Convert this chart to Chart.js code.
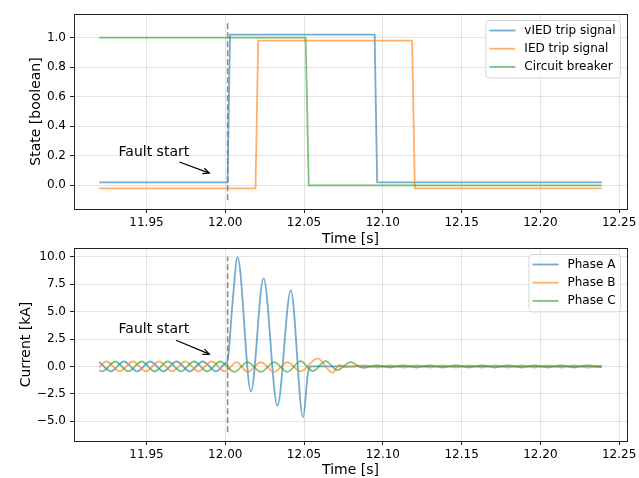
<!DOCTYPE html>
<html><head><meta charset="utf-8">
<script src="https://cdn.jsdelivr.net/npm/chart.js@4.4.1/dist/chart.umd.min.js"></script>
<style>
html,body{margin:0;padding:0;background:#fff;}
#wrap{position:relative;width:639px;height:478px;overflow:hidden;background:#fff;}
#c1{position:absolute;left:0;top:0;}
#c2{position:absolute;left:0;top:228px;}
</style></head><body>
<div id="wrap"><canvas id="c1" width="639" height="250"></canvas><canvas id="c2" width="639" height="251"></canvas></div>
<script>
// ---- tick labels / axes ----
const xTicks = [11.95, 12.00, 12.05, 12.10, 12.15, 12.20, 12.25];
const stateTicks = [0.0, 0.2, 0.4, 0.6, 0.8, 1.0];
const currentTicks = [-5.0, -2.5, 0.0, 2.5, 5.0, 7.5, 10.0];
const stateLabels = ['vIED trip signal', 'IED trip signal', 'Circuit breaker'];
const currentLabels = ['Phase A', 'Phase B', 'Phase C'];

// ---- top: trip signals ----
const viedT = [11.920, 12.0015, 12.0030, 12.0948, 12.0964, 12.239];
const viedV = [0.02, 0.02, 1.02, 1.02, 0.02, 0.02];
const iedT = [11.920, 12.0192, 12.0209, 12.1186, 12.1203, 12.239];
const iedV = [-0.02, -0.02, 0.98, 0.98, -0.02, -0.02];
const cbT = [11.920, 12.0510, 12.0530, 12.239];
const cbV = [1.0, 1.0, 0.0, 0.0];

// ---- bottom: phase currents [kA] ----
const tA = [11.9200, 11.9274, 11.9357, 11.9441, 11.9524, 11.9607, 11.9691, 11.9774, 11.9857, 11.9941, 12.0000, 12.0015, 12.0045, 12.0078, 12.0163, 12.0243, 12.0331, 12.0416, 12.0494, 12.0525, 12.0548, 12.2390];
const iA = [0.42, -0.45, 0.45, -0.45, 0.45, -0.45, 0.45, -0.45, 0.45, -0.45, 0.28, 0.55, 5.6, 9.97, -2.27, 8.03, -3.58, 6.94, -4.64, -0.6, 0.0, 0.0];
const tB = [11.9200, 11.9246, 11.9330, 11.9413, 11.9496, 11.9580, 11.9663, 11.9746, 11.9830, 11.9913, 11.9996, 12.0072, 12.0142, 12.0226, 12.0310, 12.0394, 12.0479, 12.0585, 12.0680, 12.0725, 12.0765, 12.0880, 12.0963, 12.1046, 12.1129, 12.1213, 12.1296, 12.1380, 12.1463, 12.1546, 12.1629, 12.1713, 12.1796, 12.1880, 12.1963, 12.2046, 12.2129, 12.2213, 12.2296, 12.2390];
const iB = [-0.08, 0.45, -0.45, 0.45, -0.45, 0.45, -0.45, 0.45, -0.45, 0.45, -0.45, 0.38, -0.50, 0.38, -0.50, 0.38, -0.45, 0.73, -0.58, 0.15, -0.08, 0.10, -0.10, 0.10, -0.10, 0.10, -0.10, 0.10, -0.10, 0.10, -0.10, 0.10, -0.10, 0.10, -0.10, 0.10, -0.10, 0.10, -0.10, 0.08];
const tC = [11.9200, 11.9219, 11.9302, 11.9385, 11.9469, 11.9552, 11.9635, 11.9719, 11.9802, 11.9885, 11.9969, 12.0057, 12.0142, 12.0226, 12.0310, 12.0394, 12.0479, 12.0555, 12.0637, 12.0711, 12.0796, 12.0870, 12.0963, 12.1046, 12.1129, 12.1213, 12.1296, 12.1380, 12.1463, 12.1546, 12.1629, 12.1713, 12.1796, 12.1880, 12.1963, 12.2046, 12.2129, 12.2213, 12.2296, 12.2390];
const iC = [-0.35, -0.45, 0.45, -0.45, 0.45, -0.45, 0.45, -0.45, 0.45, -0.45, 0.45, -0.50, 0.40, -0.50, 0.40, -0.50, 0.48, -0.42, 0.48, -0.33, 0.40, -0.12, 0.10, -0.10, 0.10, -0.10, 0.10, -0.10, 0.10, -0.10, 0.10, -0.10, 0.10, -0.10, 0.10, -0.10, 0.10, -0.10, 0.10, -0.08];

// ---- fault marker and annotation (data coordinates) ----
const faultTime = 12.0015;
const faultSpanState = [-0.1, 1.1];
const faultSpanCurrent = [-6.0, 10.0];
const noteText = 'Fault start';
const noteState = [11.9547, 0.224, 11.9709, 0.158, 11.9899, 0.083];
const noteCurrent = [11.9547, 3.39, 11.9688, 2.39, 11.9899, 1.12];

const xMin = 11.904, xMax = 12.255;
const stateRange = [-0.16, 1.16];
const currentRange = [-6.8, 10.8];

const BLUE = 'rgba(31,119,180,0.62)', ORANGE = 'rgba(255,127,14,0.62)', GREEN = 'rgba(44,160,44,0.62)';
const colors = [BLUE, ORANGE, GREEN];
const FONT = '"DejaVu Sans", "Liberation Sans", sans-serif';
Chart.defaults.font.family = FONT;
Chart.defaults.font.size = 12;
Chart.defaults.color = '#000';

const pts = (T, V) => T.map((t, i) => ({x: t, y: V[i]}));

const extras = {
  id: 'extras',
  afterDatasetsDraw(chart, args, opts) {
    const {ctx, chartArea: a, scales} = chart;
    const xs = scales.x, ys = scales.y;
    ctx.save();
    // annotation
    const n = opts.note;
    ctx.fillStyle = '#000';
    ctx.font = '14px ' + FONT;
    ctx.textAlign = 'center'; ctx.textBaseline = 'middle';
    ctx.fillText(noteText, xs.getPixelForValue(n[0]), ys.getPixelForValue(n[1]));
    const x1 = xs.getPixelForValue(n[2]), y1 = ys.getPixelForValue(n[3]);
    const x2 = xs.getPixelForValue(n[4]), y2 = ys.getPixelForValue(n[5]);
    ctx.strokeStyle = '#000'; ctx.lineWidth = 1.2; ctx.lineCap = 'butt';
    ctx.beginPath(); ctx.moveTo(x1, y1); ctx.lineTo(x2, y2); ctx.stroke();
    const ang = Math.atan2(y2 - y1, x2 - x1), hl = 7, hw = 0.42;
    ctx.beginPath();
    ctx.moveTo(x2 - hl * Math.cos(ang - hw), y2 - hl * Math.sin(ang - hw));
    ctx.lineTo(x2, y2);
    ctx.lineTo(x2 - hl * Math.cos(ang + hw), y2 - hl * Math.sin(ang + hw));
    ctx.stroke();
    // frame
    ctx.strokeStyle = '#222'; ctx.lineWidth = 1;
    ctx.strokeRect(Math.round(a.left) + 0.5, Math.round(a.top) + 0.5, Math.round(a.right - a.left), Math.round(a.bottom - a.top));
    // legend
    const items = chart.data.datasets.filter(d => d.inLegend);
    ctx.font = '12px ' + FONT;
    const tw = Math.max(...items.map(d => ctx.measureText(d.label).width));
    const rowH = 18.2, lineLen = 26;
    const boxW = 3.5 + lineLen + 9 + tw + 5;
    const boxH = 10 + (items.length - 1) * rowH + 11;
    const bx = a.right - 6.5 - boxW, by = a.top + 6.5;
    ctx.beginPath();
    ctx.roundRect(bx, by, boxW, boxH, 3);
    ctx.fillStyle = 'rgba(255,255,255,0.8)'; ctx.fill();
    ctx.strokeStyle = '#d6d6d6'; ctx.lineWidth = 1; ctx.stroke();
    items.forEach((d, i) => {
      const cy = by + 10 + i * rowH;
      ctx.strokeStyle = d.borderColor; ctx.lineWidth = d.borderWidth;
      ctx.beginPath(); ctx.moveTo(bx + 3.5, cy); ctx.lineTo(bx + 3.5 + lineLen, cy); ctx.stroke();
      ctx.fillStyle = '#000'; ctx.textAlign = 'left'; ctx.textBaseline = 'middle';
      ctx.fillText(d.label, bx + 3.5 + lineLen + 9, cy);
    });
    ctx.restore();
  }
};

const gridColor = 'rgba(176,176,176,0.33)';
function makeScales(range, yTicks, yFmt, yTitle, yTitlePad, xHeight, xTitlePad) {
  return {
    x: {
      type: 'linear', min: xMin, max: xMax,
      afterBuildTicks: s => { s.ticks = xTicks.map(v => ({value: v})); },
      afterFit: s => { s.height = xHeight; },
      ticks: {callback: v => v.toFixed(2), padding: 2.5, color: '#000', font: {size: 12}, maxRotation: 0, autoSkip: false},
      grid: {color: gridColor, lineWidth: 1, drawTicks: true, tickLength: 4, tickColor: '#222', tickWidth: 1},
      border: {display: false},
      title: {display: true, text: 'Time [s]', color: '#000', font: {size: 14}, padding: {top: 0, bottom: xTitlePad}}
    },
    y: {
      type: 'linear', min: range[0], max: range[1],
      afterBuildTicks: s => { s.ticks = yTicks.map(v => ({value: v})); },
      afterFit: s => { s.width = 74; },
      ticks: {callback: yFmt, padding: 4, color: '#000', font: {size: 12}, autoSkip: false},
      grid: {color: gridColor, lineWidth: 1, drawTicks: true, tickLength: 4, tickColor: '#222', tickWidth: 1},
      border: {display: false},
      title: {display: true, text: yTitle, color: '#000', font: {size: 14}, padding: {top: yTitlePad, bottom: 0}}
    }
  };
}

const lineDs = (label, T, V, color, order, mono) => ({
  label, data: pts(T, V), borderColor: color, backgroundColor: color, borderWidth: 1.8,
  pointRadius: 0, fill: false, order, inLegend: true,
  tension: 0, cubicInterpolationMode: mono ? 'monotone' : 'default'
});
const vline = (span) => ({
  label: 'fault', data: [{x: faultTime, y: span[0]}, {x: faultTime, y: span[1]}],
  borderColor: 'rgba(128,128,128,0.95)', borderWidth: 1.5, borderDash: [6, 3],
  pointRadius: 0, fill: false, order: 0, inLegend: false
});

const common = {
  responsive: false, animation: false, devicePixelRatio: 1,
  events: [],
  plugins: {legend: {display: false}, tooltip: {enabled: false}}
};

new Chart(document.getElementById('c1'), {
  type: 'line',
  data: {datasets: [
    lineDs(stateLabels[0], viedT, viedV, colors[0], 3, false),
    lineDs(stateLabels[1], iedT, iedV, colors[1], 2, false),
    lineDs(stateLabels[2], cbT, cbV, colors[2], 1, false),
    vline(faultSpanState)
  ]},
  options: Object.assign({}, common, {
    layout: {padding: {left: 0, right: 11, top: 14, bottom: 0}},
    scales: makeScales(stateRange, stateTicks, v => v.toFixed(1), 'State [boolean]', 27.6, 41, 2.6),
    plugins: Object.assign({}, common.plugins, {extras: {note: noteState}})
  }),
  plugins: [extras]
});

new Chart(document.getElementById('c2'), {
  type: 'line',
  data: {datasets: [
    lineDs(currentLabels[0], tA, iA, colors[0], 3, true),
    lineDs(currentLabels[1], tB, iB, colors[1], 2, true),
    lineDs(currentLabels[2], tC, iC, colors[2], 1, true),
    vline(faultSpanCurrent)
  ]},
  options: Object.assign({}, common, {
    layout: {padding: {left: 0, right: 11, top: 20, bottom: 0}},
    scales: makeScales(currentRange, currentTicks, v => (v < 0 ? '\u2212' : '') + Math.abs(v).toFixed(1), 'Current [kA]', 17.6, 38, 0),
    plugins: Object.assign({}, common.plugins, {extras: {note: noteCurrent}})
  }),
  plugins: [extras]
});
</script>
</body></html>
